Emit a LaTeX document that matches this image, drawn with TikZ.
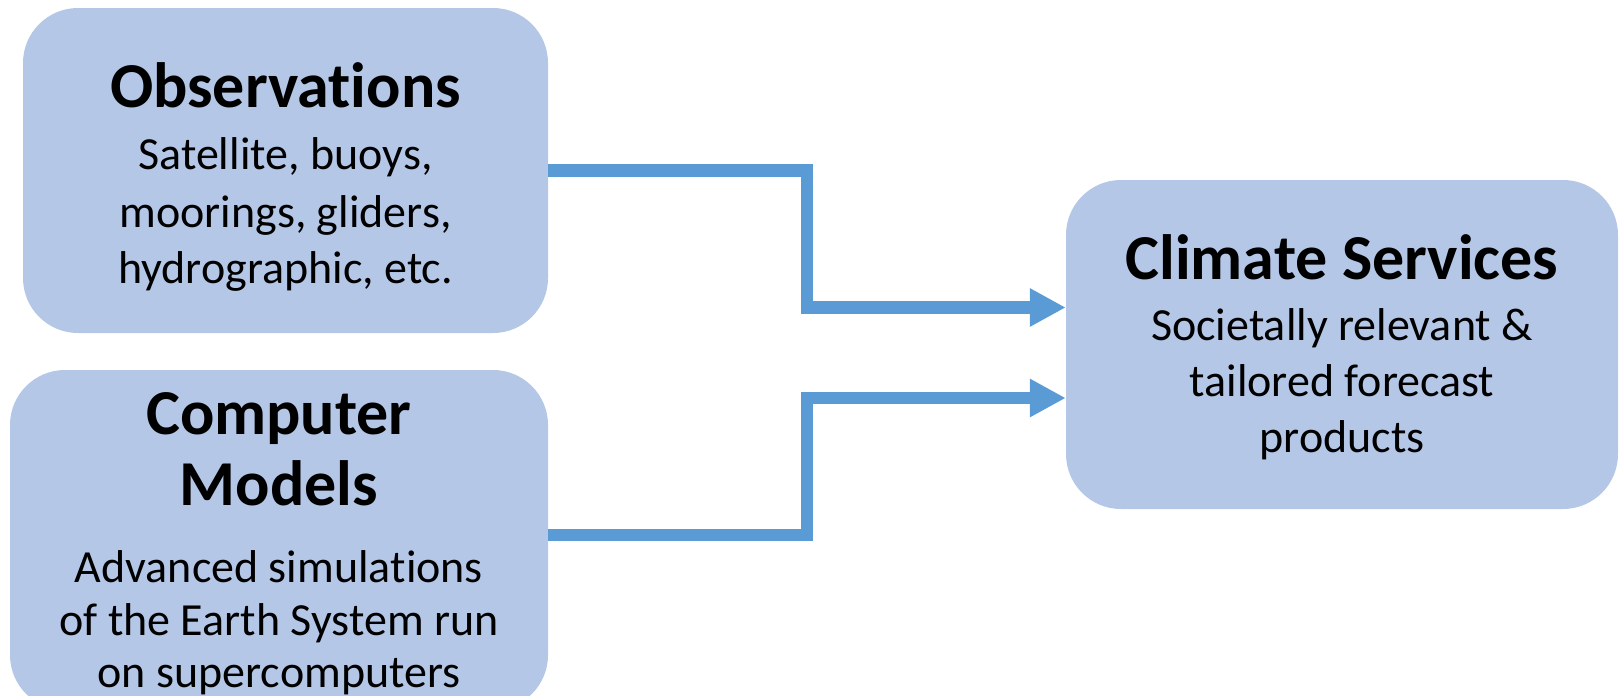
\documentclass[tikz,border=0pt]{standalone}
\usepackage{fontspec}
\setmainfont[Ligatures={NoCommon}]{Carlito}
\usetikzlibrary{arrows.meta}
\definecolor{boxblue}{HTML}{B4C7E7}
\definecolor{arrowblue}{HTML}{5B9BD5}
\newcommand{\tisep}{t\kern0pt i}
\tikzset{
  boxnode/.style={fill=boxblue, draw=none, rounded corners=55pt, inner sep=0pt},
  titletext/.style={anchor=base, inner sep=0pt, font=\fontsize{64}{64}\selectfont\bfseries},
  bodytext/.style={anchor=base, inner sep=0pt, font=\fontsize{46}{46}\selectfont},
  conn/.style={draw=arrowblue, line width=12.5pt, line join=miter, line cap=butt,
    -{Triangle[length=36pt 0 0, width=36pt 0 0]}}
}
\begin{document}
\begin{tikzpicture}[x=1pt, y=-1pt]
\clip (0,0) rectangle (1620,696);
% boxes
\node[boxnode, minimum width=525pt, minimum height=325pt] (obs) at (285.5,170.5) {};
\node[boxnode, minimum width=538pt, minimum height=340pt] (cm) at (279,540) {};
\node[boxnode, minimum width=552pt, minimum height=329pt] (cs) at (1342,344.5) {};
% texts
\node[titletext] (obs1) at (285.5,107) {Observa\tisep ons};
\node[bodytext] (obs2) at (285.5,169) {Satellite, buoys,};
\node[bodytext] (obs3) at (285.5,227) {moorings, gliders,};
\node[bodytext] (obs4) at (285.5,283) {hydrographic, etc.};
\node[titletext] (cm1) at (279,434) {Computer};
\node[titletext] (cm2) at (279,505) {Models};
\node[bodytext] (cm3) at (279,582) {Advanced simula\tisep ons};
\node[bodytext] (cm4) at (279,635) {of the Earth System run};
\node[bodytext] (cm5) at (279,687) {on supercomputers};
\node[titletext] (cs1) at (1342,279) {Climate Services};
\node[bodytext] (cs2) at (1342,340) {Societally relevant \&};
\node[bodytext] (cs3) at (1342,396) {tailored forecast};
\node[bodytext] (cs4) at (1342,452) {products};
% connectors
\coordinate (jx) at (807,0);
\coordinate (up) at ([yshift=37pt]cs.west);
\coordinate (lo) at ([yshift=-53.5pt]cs.west);
\coordinate (cmout) at ([yshift=5pt]cm.east);
\draw[conn] (obs.east) -- (obs.east -| jx) -- (jx |- up) -- (up);
\draw[conn] (cmout) -- (cmout -| jx) -- (jx |- lo) -- (lo);
\end{tikzpicture}
\end{document}
